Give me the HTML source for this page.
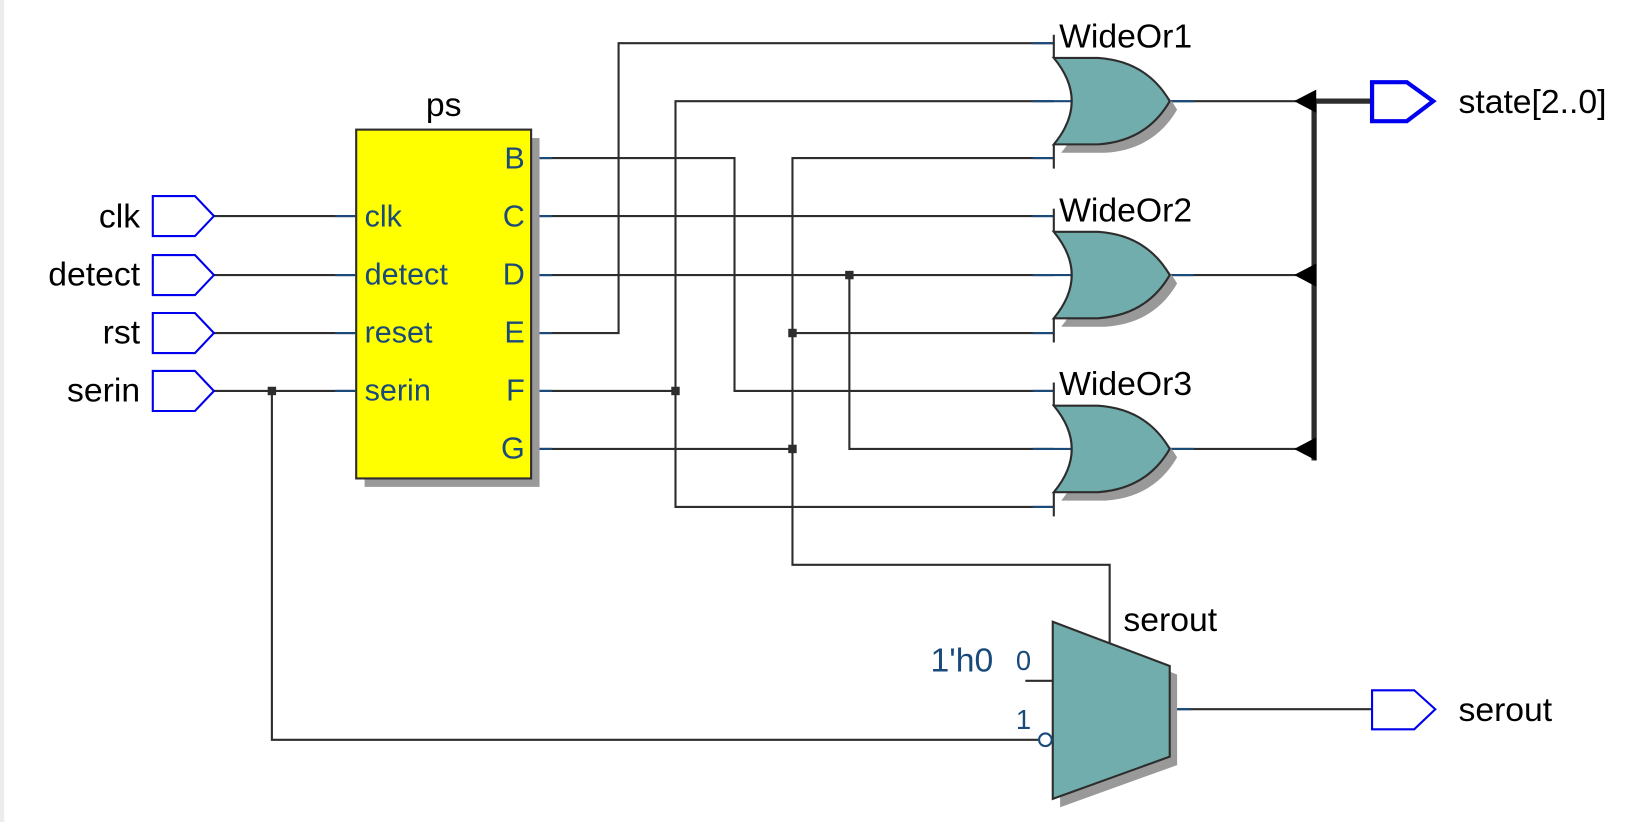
<!DOCTYPE html>
<html><head><meta charset="utf-8"><style>
html,body{margin:0;padding:0;background:#fff;}
svg{display:block;}
text{font-family:"Liberation Sans",sans-serif;}
</style></head><body>
<svg width="1645" height="822" viewBox="0 0 1561 780" preserveAspectRatio="none" xmlns="http://www.w3.org/2000/svg">
<rect x="0" y="0" width="4" height="780" fill="#ececec"/>
<g stroke="#2d2d2d" stroke-width="2" fill="none">
<line x1="203" y1="205" x2="337" y2="205"/>
<line x1="203" y1="261" x2="337" y2="261"/>
<line x1="203" y1="316" x2="337" y2="316"/>
<line x1="203" y1="371" x2="337" y2="371"/>
<polyline points="258,371 258,702 985,702"/>
<polyline points="505,150 697,150 697,371 1000,371"/>
<line x1="505" y1="205" x2="1000" y2="205"/>
<line x1="505" y1="261" x2="1000" y2="261"/>
<polyline points="806,261 806,426 1000,426"/>
<polyline points="505,316 587,316 587,41 1000,41"/>
<line x1="505" y1="371" x2="641" y2="371"/>
<polyline points="1000,96 641,96 641,481 1000,481"/>
<line x1="505" y1="426" x2="752" y2="426"/>
<polyline points="1000,150 752,150 752,536 1053,536 1053,610"/>
<line x1="752" y1="316" x2="1000" y2="316"/>
<line x1="1110" y1="96" x2="1230" y2="96"/>
<line x1="1110" y1="261" x2="1230" y2="261"/>
<line x1="1110" y1="426" x2="1230" y2="426"/>
<line x1="1110" y1="673" x2="1302" y2="673"/>
<line x1="973" y1="646" x2="999" y2="646"/>
</g>
<g stroke="#1a4a7a" stroke-width="2">
<line x1="318" y1="205" x2="337" y2="205"/><line x1="318" y1="261" x2="337" y2="261"/>
<line x1="318" y1="316" x2="337" y2="316"/><line x1="318" y1="371" x2="337" y2="371"/>
<line x1="505" y1="150" x2="524" y2="150"/><line x1="505" y1="205" x2="524" y2="205"/>
<line x1="505" y1="261" x2="524" y2="261"/><line x1="505" y1="316" x2="524" y2="316"/>
<line x1="505" y1="371" x2="524" y2="371"/><line x1="505" y1="426" x2="524" y2="426"/>
<line x1="1110" y1="673" x2="1130" y2="673"/>
<line x1="1110" y1="96" x2="1133" y2="96"/><line x1="1110" y1="261" x2="1133" y2="261"/><line x1="1110" y1="426" x2="1133" y2="426"/>
<line x1="980" y1="41" x2="1000" y2="41"/><line x1="980" y1="96" x2="1017" y2="96"/><line x1="980" y1="150" x2="1000" y2="150"/>
<line x1="980" y1="205" x2="1000" y2="205"/><line x1="980" y1="261" x2="1017" y2="261"/><line x1="980" y1="316" x2="1000" y2="316"/>
<line x1="980" y1="371" x2="1000" y2="371"/><line x1="980" y1="426" x2="1017" y2="426"/><line x1="980" y1="481" x2="1000" y2="481"/>
</g>
<g fill="#2d2d2d">
<rect x="254" y="367" width="8" height="8"/>
<rect x="637" y="367" width="8" height="8"/>
<rect x="802" y="257" width="8" height="8"/>
<rect x="748" y="312" width="8" height="8"/>
<rect x="748" y="422" width="8" height="8"/>
</g>
<g stroke="#0000ee" stroke-width="2" fill="#fff">
<polygon points="145,186 185,186 203,205 185,224 145,224"/>
<polygon points="145,242 185,242 203,261 185,280 145,280"/>
<polygon points="145,297 185,297 203,316 185,335 145,335"/>
<polygon points="145,352 185,352 203,371 185,390 145,390"/>
<polygon points="1302,655 1342,655 1362,673 1342,692 1302,692"/>
</g>
<g font-size="32" fill="#000" text-anchor="end">
<text x="133" y="216">clk</text><text x="133" y="271">detect</text>
<text x="133" y="326">rst</text><text x="133" y="381">serin</text>
</g>
<rect x="346" y="131" width="166" height="331" fill="#999"/>
<rect x="338" y="123" width="166" height="331" fill="#ffff00" stroke="#2d2d2d" stroke-width="2"/>
<text x="421" y="110" font-size="32" text-anchor="middle">ps</text>
<g font-size="29" fill="#1a4a7a">
<text x="346" y="215">clk</text><text x="346" y="270">detect</text>
<text x="346" y="325">reset</text><text x="346" y="380">serin</text>
</g>
<g font-size="29" fill="#1a4a7a" text-anchor="end">
<text x="498" y="160">B</text><text x="498" y="215">C</text><text x="498" y="270">D</text>
<text x="498" y="325">E</text><text x="498" y="380">F</text><text x="498" y="435">G</text>
</g>
<defs>
<path id="org" d="M1000,-41 Q1034,0 1000,41 L1042,41 Q1088,38 1110,0 Q1088,-38 1042,-41 Z"/>
</defs>
<use href="#org" transform="translate(7,104)" fill="#999"/>
<use href="#org" transform="translate(0,96)" fill="#72adad" stroke="#2d2d2d" stroke-width="2"/>
<use href="#org" transform="translate(7,269)" fill="#999"/>
<use href="#org" transform="translate(0,261)" fill="#72adad" stroke="#2d2d2d" stroke-width="2"/>
<use href="#org" transform="translate(7,434)" fill="#999"/>
<use href="#org" transform="translate(0,426)" fill="#72adad" stroke="#2d2d2d" stroke-width="2"/>
<g stroke="#2d2d2d" stroke-width="2">
<line x1="1000" y1="33" x2="1000" y2="55"/><line x1="1000" y1="137" x2="1000" y2="160"/>
<line x1="1000" y1="198" x2="1000" y2="220"/><line x1="1000" y1="302" x2="1000" y2="325"/>
<line x1="1000" y1="363" x2="1000" y2="385"/><line x1="1000" y1="467" x2="1000" y2="490"/>
</g>
<g font-size="32" fill="#000">
<text x="1005" y="45">WideOr1</text><text x="1005" y="210">WideOr2</text><text x="1005" y="375">WideOr3</text>
</g>
<g stroke="#2d2d2d" stroke-width="5">
<line x1="1247" y1="94" x2="1247" y2="437"/>
<line x1="1247" y1="96" x2="1302" y2="96"/>
</g>
<g fill="#000">
<polygon points="1228,96 1249,85 1249,107"/>
<polygon points="1228,261 1249,250 1249,272"/>
<polygon points="1228,426 1249,415 1249,437"/>
</g>
<polygon points="1302,78 1335,78 1360,96 1335,115 1302,115" fill="#fff" stroke="#0000ee" stroke-width="4"/>
<text x="1384" y="107" font-size="32">state[2..0]</text>
<polygon points="1006,598 1117,640 1117,726 1006,766" fill="#999"/>
<polygon points="999,590 1110,632 1110,718 999,758" fill="#72adad" stroke="#2d2d2d" stroke-width="2"/>
<circle cx="992" cy="702" r="6" fill="#fff" stroke="#1a4a7a" stroke-width="2"/>
<text x="1066" y="599" font-size="32">serout</text>
<text x="1384" y="684" font-size="32">serout</text>
<text x="883" y="637" font-size="32" fill="#1a4a7a">1'h0</text>
<text x="964" y="636" font-size="26" fill="#1a4a7a">0</text>
<text x="964" y="692" font-size="26" fill="#1a4a7a">1</text>
</svg>
</body></html>
